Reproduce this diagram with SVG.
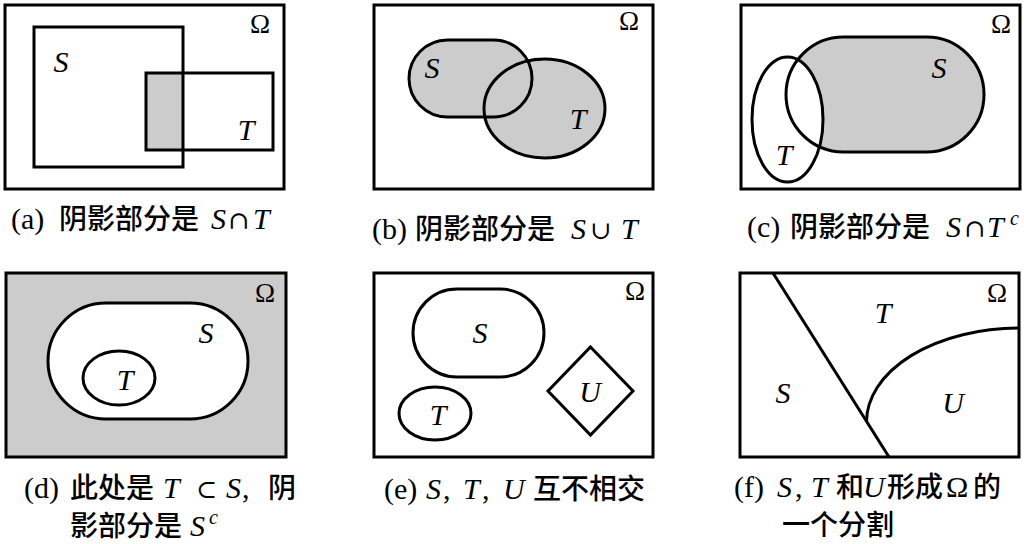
<svg xmlns="http://www.w3.org/2000/svg" width="1024" height="544" viewBox="0 0 1024 544">
<style>
.ln{fill:none;stroke:#000;stroke-width:3}
.g{fill:#cccccc;stroke:none}
.w{fill:#fff;stroke:none}
.lbl{font-family:"Liberation Serif",serif;font-style:italic;font-size:30px;text-anchor:middle;fill:#000}
.om{font-family:"Liberation Serif",serif;font-size:27px;text-anchor:middle;fill:#000}
.cap{font-family:"Liberation Serif",serif;font-size:30px;fill:#000}
.cj{font-family:"Noto Sans CJK SC",sans-serif;font-weight:500;font-size:28px}
.it{font-family:"Liberation Serif",serif;font-style:italic;font-size:30px}
.sy{font-family:"DejaVu Serif","Liberation Serif",serif;font-size:25px}
.sup{font-family:"Liberation Serif",serif;font-style:italic;font-size:20px}
</style>
<rect width="1024" height="544" fill="#fff"/>

<g id="panel-a">
<rect class="g" x="146" y="73" width="37" height="77"/>
<rect class="ln" x="5" y="5" width="279" height="184"/>
<rect class="ln" x="34" y="27" width="149" height="140"/>
<rect class="ln" x="146" y="73" width="127" height="77"/>
<text class="lbl" x="61" y="72">S</text>
<text class="lbl" x="246" y="140">T</text>
<text class="om" x="260" y="33">Ω</text>
<text class="cap" y="229"><tspan x="11">(a)</tspan><tspan class="cj" x="59">阴影部分是</tspan><tspan class="it" x="211">S</tspan><tspan class="sy" x="228">∩</tspan><tspan class="it" x="253">T</tspan></text>
</g>

<g id="panel-b">
<rect class="ln" x="374" y="5" width="279" height="184"/>
<rect class="g" x="409" y="40" width="123" height="77" rx="38.5" ry="38.5"/>
<ellipse class="g" cx="544.5" cy="108.5" rx="60.5" ry="49.5"/>
<rect class="ln" x="409" y="40" width="123" height="77" rx="38.5" ry="38.5"/>
<ellipse class="ln" cx="544.5" cy="108.5" rx="60.5" ry="49.5"/>
<text class="lbl" x="432" y="78">S</text>
<text class="lbl" x="578" y="129">T</text>
<text class="om" x="629" y="30">Ω</text>
<text class="cap" y="239"><tspan x="372">(b)</tspan><tspan class="cj" x="415">阴影部分是</tspan><tspan class="it" x="571">S</tspan><tspan class="sy" x="590">∪</tspan><tspan class="it" x="621">T</tspan></text>
</g>

<g id="panel-c">
<rect class="ln" x="741" y="5" width="279" height="184"/>
<rect class="g" x="786" y="37" width="198" height="115" rx="57.5" ry="57.5"/>
<ellipse class="w" cx="787.5" cy="119.5" rx="35.5" ry="62.5"/>
<rect class="ln" x="786" y="37" width="198" height="115" rx="57.5" ry="57.5"/>
<ellipse class="ln" cx="787.5" cy="119.5" rx="35.5" ry="62.5"/>
<text class="lbl" x="939" y="78">S</text>
<text class="lbl" x="784" y="165">T</text>
<text class="om" x="1001" y="33">Ω</text>
<text class="cap" y="237"><tspan x="747">(c)</tspan><tspan class="cj" x="790">阴影部分是</tspan><tspan class="it" x="946">S</tspan><tspan class="sy" x="964">∩</tspan><tspan class="it" x="987">T</tspan><tspan class="sup" x="1010" dy="-12">c</tspan></text>
</g>

<g id="panel-d">
<rect x="6" y="273" width="280" height="184" fill="#cccccc" stroke="#000" stroke-width="3"/>
<rect x="48" y="303" width="200" height="116" rx="58" ry="58" fill="#fff" stroke="#000" stroke-width="3"/>
<ellipse cx="119" cy="378" rx="36" ry="27" fill="#fff" stroke="#000" stroke-width="3"/>
<text class="lbl" x="206" y="343">S</text>
<text class="lbl" x="125" y="390">T</text>
<text class="om" x="265" y="302">Ω</text>
<text class="cap" y="498"><tspan x="24">(d)</tspan><tspan class="cj" x="70">此处是</tspan><tspan class="it" x="163">T</tspan><tspan class="sy" x="196">⊂</tspan><tspan class="it" x="226">S</tspan><tspan x="242">,</tspan><tspan class="cj" x="268">阴</tspan><tspan class="cj" x="70" y="536">影部分是</tspan><tspan class="it" x="190" y="536">S</tspan><tspan class="sup" x="209" y="524">c</tspan></text>
</g>

<g id="panel-e">
<rect class="ln" x="374" y="273" width="279" height="184"/>
<rect class="ln" x="413" y="289" width="131" height="88" rx="44" ry="44"/>
<ellipse class="ln" cx="435" cy="413.5" rx="36" ry="26.5"/>
<polygon class="ln" points="590.5,347 633,391 590.5,435 548,391"/>
<text class="lbl" x="480" y="343">S</text>
<text class="lbl" x="438" y="425">T</text>
<text class="lbl" x="590" y="402">U</text>
<text class="om" x="635" y="300">Ω</text>
<text class="cap" y="499"><tspan x="384">(e)</tspan><tspan class="it" x="426">S</tspan><tspan x="443">,</tspan><tspan class="it" x="463">T</tspan><tspan x="482">,</tspan><tspan class="it" x="503">U</tspan><tspan class="cj" x="533">互不相交</tspan></text>
</g>

<g id="panel-f">
<rect class="ln" x="740" y="273" width="279" height="184"/>
<line class="ln" x1="773" y1="273" x2="889" y2="457"/>
<path class="ln" d="M866.5 422 A153 94 0 0 1 1019 328"/>
<text class="lbl" x="783" y="403">S</text>
<text class="lbl" x="883" y="323">T</text>
<text class="lbl" x="953" y="413">U</text>
<text class="om" x="997" y="302">Ω</text>
<text class="cap" y="497"><tspan x="734">(f)</tspan><tspan class="it" x="777">S</tspan><tspan x="795">,</tspan><tspan class="it" x="811">T</tspan><tspan class="cj" x="836">和</tspan><tspan class="it" x="863">U</tspan><tspan class="cj" x="887">形成</tspan><tspan x="946">Ω</tspan><tspan class="cj" x="973">的</tspan><tspan class="cj" x="782" y="535">一个分割</tspan></text>
</g>
</svg>
